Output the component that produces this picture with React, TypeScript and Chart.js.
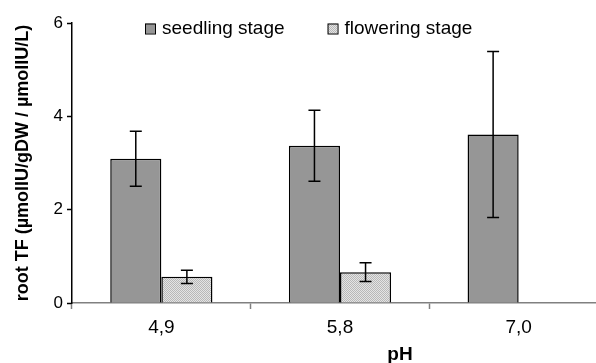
import React, { useEffect, useRef } from 'react';
import { Chart, registerables } from 'chart.js';

Chart.register(...registerables);

const categories = ['4,9', '5,8', '7,0'];
const seriesNames = ['seedling stage', 'flowering stage'];
const seedling = [3.09, 3.37, 3.61];
const seedlingErr = [0.59, 0.76, 1.78];
const flowering: (number | null)[] = [0.56, 0.66, null];
const floweringErr: (number | null)[] = [0.14, 0.2, null];
const yMin = 0;
const yMax = 6;
const yStep = 2;
const yTitle = 'root TF (µmolIU/gDW / µmolIU/L)';
const xTitle = 'pH';

const FONT = '"Liberation Sans", Arial, Helvetica, sans-serif';

function makePattern(): CanvasPattern | string {
  const c = document.createElement('canvas');
  c.width = 2;
  c.height = 2;
  const g = c.getContext('2d');
  if (!g) return '#d0d0d0';
  g.fillStyle = '#e4e4e4';
  g.fillRect(0, 0, 2, 2);
  g.fillStyle = '#b8b8b8';
  g.fillRect(0, 0, 1, 1);
  g.fillRect(1, 1, 1, 1);
  const p = g.createPattern(c, 'repeat');
  return p || '#d0d0d0';
}

const errorLists = [seedlingErr, floweringErr];

const errorBarsPlugin = {
  id: 'errorBars',
  afterDatasetsDraw(chart: any) {
    const ctx = chart.ctx;
    const ys = chart.scales.y;
    chart.data.datasets.forEach((ds: any, di: number) => {
      const meta = chart.getDatasetMeta(di);
      const errs = errorLists[di];
      meta.data.forEach((bar: any, i: number) => {
        const v = ds.data[i];
        const e = errs[i];
        if (v == null || e == null) return;
        const x = bar.x;
        const yt = ys.getPixelForValue(v + e);
        const yb = ys.getPixelForValue(v - e);
        ctx.save();
        ctx.strokeStyle = '#000';
        ctx.lineWidth = 1.5;
        ctx.beginPath();
        ctx.moveTo(x, yt);
        ctx.lineTo(x, yb);
        ctx.moveTo(x - 6, yt);
        ctx.lineTo(x + 6, yt);
        ctx.moveTo(x - 6, yb);
        ctx.lineTo(x + 6, yb);
        ctx.stroke();
        ctx.restore();
      });
    });
  },
};

const legendPlugin = {
  id: 'customLegend',
  afterDraw(chart: any) {
    const ctx = chart.ctx;
    ctx.save();
    ctx.font = `19px ${FONT}`;
    ctx.textBaseline = 'middle';
    ctx.textAlign = 'left';
    let x = 145;
    const yc = 28.5;
    chart.data.datasets.forEach((ds: any) => {
      ctx.fillStyle = ds.backgroundColor;
      ctx.fillRect(x, yc - 5, 10, 10);
      ctx.strokeStyle = '#000';
      ctx.lineWidth = 1;
      ctx.strokeRect(x + 0.5, yc - 4.5, 10, 10);
      ctx.fillStyle = '#000';
      ctx.fillText(ds.label, x + 17, yc);
      const w = ctx.measureText(ds.label).width;
      x += 17 + w + 43;
    });
    ctx.restore();
  },
};

const xTitlePlugin = {
  id: 'xTitle',
  afterDraw(chart: any) {
    const ctx = chart.ctx;
    ctx.save();
    ctx.font = `bold 19px ${FONT}`;
    ctx.fillStyle = '#000';
    ctx.textAlign = 'center';
    ctx.textBaseline = 'middle';
    ctx.fillText(xTitle, chart.chartArea.left + 328, 355);
    ctx.restore();
  },
};

export default function App() {
  const ref = useRef<HTMLCanvasElement | null>(null);
  useEffect(() => {
    if (!ref.current) return;
    const pattern = makePattern();
    const chart = new Chart(ref.current, {
      type: 'bar',
      data: {
        labels: categories,
        datasets: [
          {
            label: seriesNames[0],
            data: seedling,
            backgroundColor: '#969696',
            borderColor: '#000',
            borderWidth: 1.5,
            categoryPercentage: 0.572,
            barPercentage: 1,
          },
          {
            label: seriesNames[1],
            data: flowering,
            backgroundColor: pattern as any,
            borderColor: '#000',
            borderWidth: 1.5,
            categoryPercentage: 0.572,
            barPercentage: 1,
          },
        ],
      },
      options: {
        responsive: false,
        animation: false,
        layout: { padding: { top: 23, left: 0, right: 0, bottom: 0 } },
        plugins: {
          legend: { display: false },
          tooltip: { enabled: false },
          title: { display: false },
        },
        scales: {
          x: {
            offset: true,
            border: { color: '#808080', width: 1.5 },
            grid: {
              offset: true,
              drawOnChartArea: false,
              drawTicks: true,
              tickLength: 6,
              tickColor: '#808080',
              tickWidth: 1.5,
            },
            ticks: {
              color: '#000',
              font: { family: FONT, size: 19 },
              padding: 7,
            },
            afterFit: (s: any) => {
              s.height = 60;
            },
          },
          y: {
            min: yMin,
            max: yMax,
            border: { color: '#000', width: 1.5 },
            grid: {
              drawOnChartArea: false,
              drawTicks: true,
              tickLength: 5,
              tickColor: '#000',
              tickWidth: 1.5,
            },
            ticks: {
              stepSize: yStep,
              color: '#000',
              font: { family: FONT, size: 17 },
              padding: 4,
            },
            title: {
              display: true,
              text: yTitle,
              color: '#000',
              font: { family: FONT, size: 18, weight: 'bold' },
              padding: { top: 12, bottom: 0 },
            },
            afterFit: (s: any) => {
              s.width = 72;
            },
          },
        },
      },
      plugins: [errorBarsPlugin, legendPlugin, xTitlePlugin],
    });
    return () => chart.destroy();
  }, []);
  return (
    <div
      style={{
        position: 'absolute',
        left: 0,
        top: 0,
        width: 596,
        height: 363,
        overflow: 'hidden',
        background: '#fff',
      }}
    >
      <canvas ref={ref} width={608} height={363} style={{ width: 608, height: 363, display: 'block' }} />
    </div>
  );
}
